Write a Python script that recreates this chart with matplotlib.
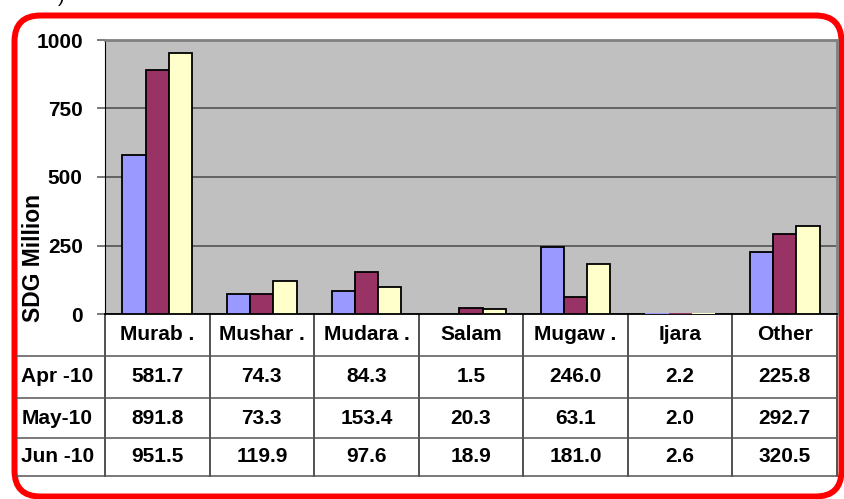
import matplotlib.pyplot as plt
from matplotlib.patches import FancyBboxPatch
import matplotlib.transforms as mtransforms

# data
categories = ['Murab .', 'Mushar .', 'Mudara .', 'Salam', 'Mugaw .', 'Ijara', 'Other']
months = ['Apr -10', 'May-10', 'Jun -10']
apr_10 = [581.7, 74.3, 84.3, 1.5, 246.0, 2.2, 225.8]
may_10 = [891.8, 73.3, 153.4, 20.3, 63.1, 2.0, 292.7]
jun_10 = [951.5, 119.9, 97.6, 18.9, 181.0, 2.6, 320.5]
series = [apr_10, may_10, jun_10]
colors = ['#9999FF', '#993366', '#FFFFCC']
yticks = [0, 250, 500, 750, 1000]

plt.rcParams['font.family'] = ['Liberation Sans', 'DejaVu Sans']
plt.rcParams['font.weight'] = 'bold'
FS = 15

W, H = 845, 499
fig = plt.figure(figsize=(W / 100, H / 100), dpi=100)

# pixel overlay for the rounded red frame
bg = fig.add_axes([0, 0, 1, 1])
bg.set_xlim(0, W)
bg.set_ylim(H, 0)
bg.axis('off')
bg.add_patch(FancyBboxPatch((14.5, 15.5), 827, 481,
                            boxstyle='round,pad=0,rounding_size=26',
                            fc='white', ec='red', lw=4.3, zorder=1))
bg.text(61, -3, ')', fontsize=14, fontweight='normal', ha='center', va='center')

# main chart
ax = fig.add_axes([105 / W, 1 - 314 / H, 732 / W, 274 / H])
ax.set_facecolor('#C0C0C0')
n = len(categories)
bw = 1 / 4.5
for i, (vals, c) in enumerate(zip(series, colors)):
    xs = [k + (i - 1) * bw for k in range(n)]
    # tiny values (< ~1px) are not visible in the original
    lws = [1.3 if v >= 5 else 0 for v in vals]
    ax.bar(xs, vals, width=bw, color=c, edgecolor='black', linewidth=lws, zorder=3)

ax.set_xlim(-0.5, n - 0.5)
ax.set_ylim(0, 1000)
ax.set_yticks(yticks)
ax.set_yticklabels([str(t) for t in yticks], fontsize=FS, fontweight='bold')
ax.set_xticks([])
ax.yaxis.grid(True, color='#4a4a4a', linewidth=1.1, zorder=1)
ax.set_axisbelow(True)
ax.tick_params(axis='y', length=6, width=1.1, color='#555555', pad=10)
ax.spines['left'].set_color('black')
ax.spines['bottom'].set_color('black')
ax.spines['bottom'].set_linewidth(1.3)
ax.spines['top'].set_color('#808080')
ax.spines['right'].set_color('#808080')
ax.spines['top'].set_linewidth(2)
ax.spines['right'].set_linewidth(2)
ax.set_ylabel('SDG Million', fontsize=16.5, fontweight='bold', va='center')
ax.yaxis.set_label_coords((34 - 105) / 732, (314 - 258) / 274)

# data table under the chart
trans = mtransforms.blended_transform_factory(ax.transData, ax.transAxes)
row_edges = [0, -42 / 274, -84 / 274, -124 / 274, -162 / 274]
left_x = -0.5 - 88 / (732 / n)
for k in range(n + 1):
    ax.plot([k - 0.5, k - 0.5], [row_edges[0], row_edges[-1]], color='#222222',
            lw=1.1, transform=trans, clip_on=False)
for y in row_edges[1:]:
    ax.plot([left_x, n - 0.5], [y, y], color='#555555', lw=1.1,
            transform=trans, clip_on=False)

def row_mid(r):
    return (row_edges[r] + row_edges[r + 1]) / 2

for k, cat in enumerate(categories):
    ax.text(k, row_mid(0), cat, fontsize=FS, fontweight='bold', ha='center',
            va='center', transform=trans)
for r, (m, vals) in enumerate(zip(months, series)):
    ax.text(left_x + 0.04, row_mid(r + 1), m, fontsize=FS, fontweight='bold',
            ha='left', va='center', transform=trans)
    for k, v in enumerate(vals):
        ax.text(k, row_mid(r + 1), f'{v:.1f}', fontsize=FS, fontweight='bold',
                ha='center', va='center', transform=trans)

fig.savefig('out.png', dpi=100)
